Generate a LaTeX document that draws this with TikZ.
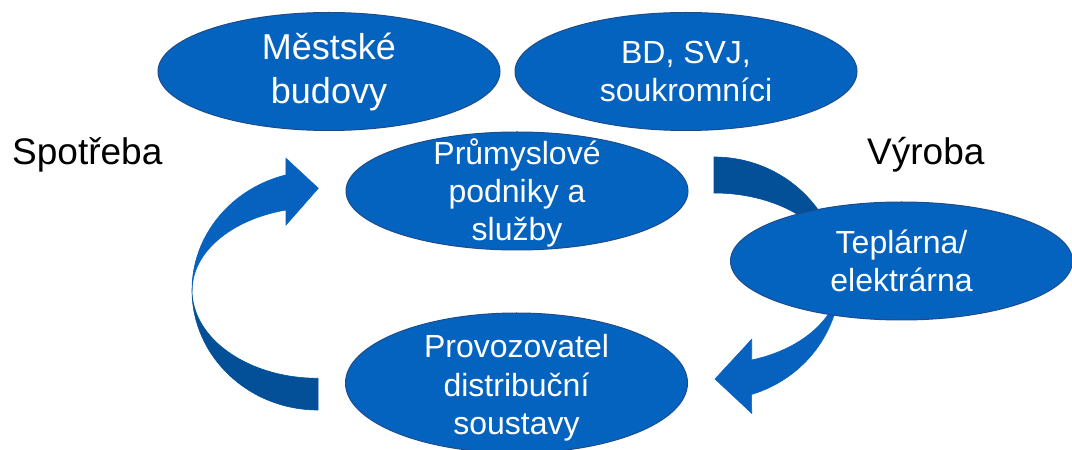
\documentclass[tikz,border=0pt]{standalone}
\usepackage{fontspec}
\setmainfont{Liberation Sans}
\usetikzlibrary{shapes.geometric}
\definecolor{bubblefill}{RGB}{5,99,192}
\definecolor{bubbleline}{RGB}{30,76,138}
\definecolor{arrowlight}{RGB}{6,98,190}
\definecolor{arrowdark}{RGB}{3,80,152}
\newcommand{\bubble}[5][]{%
 \node[bubble, minimum height=#4] (#2) at (#3) {};%
 \node[bubbletext, #1] (#2-t) at (#2) {#5};%
}

\begin{document}
\begin{tikzpicture}[x=1pt, y=1pt,
  bubble/.style={ellipse, draw=bubbleline, fill=bubblefill, line width=1pt, inner sep=0pt, minimum width=342},
  bubbletext/.style={text=white, align=center, inner sep=0pt, font=\fontsize{32}{38.4}\selectfont},
  bigtext/.style={font=\fontsize{36}{44}\selectfont},
  sidetext/.style={anchor=base west, inner sep=0pt, font=\fontsize{37}{44}\selectfont},
  blockarrow/.style={draw=bubbleline, line width=.6pt}]
  \useasboundingbox (0,0) rectangle (1072,450);
  \fill[blockarrow, arrowdark] (192,160) arc[start angle=180, end angle=270, x radius=126, y radius=120]
    -- (318,71.7) arc[start angle=270, end angle=180, x radius=126, y radius=88.3] -- cycle;
  \fill[blockarrow, arrowlight] (192,160) arc[start angle=180, end angle=104.8, x radius=126, y radius=119]
    -- (286,291.7) -- (318.3,261.7) -- (286,225) -- (286,240)
    arc[start angle=104.8, end angle=180, x radius=126, y radius=82.75] -- cycle;
  \fill[blockarrow, arrowdark] (714,293) arc[start angle=90, end angle=0, x radius=126, y radius=121]
    arc[start angle=0, end angle=90, x radius=126, y radius=85] -- cycle;
  \fill[blockarrow, arrowlight] (840,172) arc[start angle=0, end angle=-72.6, x radius=126, y radius=122]
    -- (751.7,36.7) -- (715,71) -- (751.7,110.7) -- (751.7,90)
    arc[start angle=-72.6, end angle=0, x radius=126, y radius=86] -- cycle;
  \bubble[bigtext]{mest}{329,378.5}{118}{Městské\\budovy}
  \bubble{bd}{686,378.5}{118}{BD, SVJ,\\soukromníci}
  \bubble[yshift=-2]{prum}{517,259}{118}{Průmyslové\\podniky a\\služby}
  \bubble{tepl}{901.5,189}{118}{Teplárna/\\elektrárna}
  \bubble[yshift=-5]{prov}{516.5,67}{140}{Provozovatel\\distribuční\\soustavy}
  \node[sidetext] (spot) at (12,285) {Spotřeba};
  \node[sidetext] (vyr) at (867,285.7) {Výroba};
\end{tikzpicture}
\end{document}
